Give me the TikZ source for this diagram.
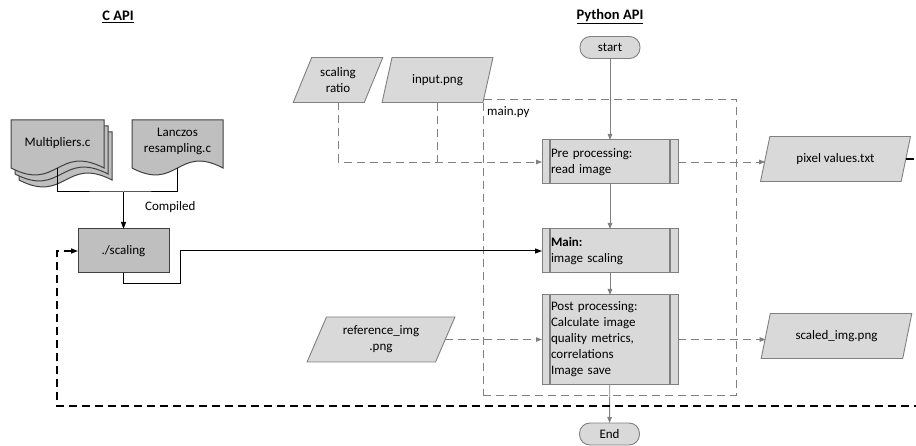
\documentclass[tikz,border=0pt]{standalone}
\usepackage{fontspec}
\setmainfont{Carlito}
\usetikzlibrary{arrows.meta,shapes.geometric}

\definecolor{boxfill}{HTML}{D9D9D9}
\definecolor{boxline}{HTML}{808080}
\definecolor{cfill}{HTML}{BFBFBF}
\definecolor{cline}{HTML}{404040}

% document symbol: options, left x, top y, width, height of straight sides
\newcommand\docshape[5]{%
  \filldraw[#1] (#2,#3) -- ({#2+#4},#3) -- ({#2+#4},{#3+#5})
    .. controls ({#2+0.5*#4},{#3+#5-24}) and ({#2+0.5*#4},{#3+#5+24}) .. (#2,{#3+#5}) -- cycle;}

\begin{document}
\begin{tikzpicture}[x=1pt,y=-1pt,
  font=\fontsize{13}{16}\selectfont,
  sub/.style={draw=boxline, line width=1pt, fill=boxfill, minimum width=136pt,
    text width=118pt, inner xsep=9pt, align=left, outer sep=0pt,
    path picture={\draw[boxline, line width=1.8pt]
      ([xshift=8pt]path picture bounding box.north west) -- ([xshift=8pt]path picture bounding box.south west)
      ([xshift=-8pt]path picture bounding box.north east) -- ([xshift=-8pt]path picture bounding box.south east);}},
  io/.style={trapezium, trapezium left angle=63.43, trapezium right angle=116.57,
    trapezium stretches=true, draw=boxline, fill=boxfill, minimum height=45pt,
    inner sep=0pt, outer sep=0pt, align=center, line width=0.9pt},
  term/.style={draw=boxline, fill=boxfill, rounded corners=10.5pt, minimum width=60pt,
    minimum height=22pt, inner sep=0pt, outer sep=0pt, line width=0.9pt},
  cbox/.style={draw=cline, fill=cfill, line width=1pt, minimum width=91pt,
    minimum height=44pt, inner sep=0pt, outer sep=0pt},
  title/.style={font=\fontsize{14.5}{16}\selectfont\bfseries},
  garrow/.style={draw=boxline, line width=0.9pt, -{Triangle[length=6pt,width=4.5pt]}},
  gdash/.style={garrow, dash pattern=on 8pt off 5pt},
  barrow/.style={draw=black, line width=1pt, -{Triangle[length=7pt,width=5pt]}},
  fbdash/.style={barrow, line width=1.3pt, dash pattern=on 8pt off 5pt}]

\path[use as bounding box, clip] (0,0) rectangle (916,446);

% headings
\node[title] (ctitle) at (118,17) {\underline{C API}};
\node[title] (pytitle) at (610,17) {\underline{Python API}};

% main.py container
\node[draw=boxline, dash pattern=on 8pt off 5pt, line width=0.9pt,
  minimum width=253pt, minimum height=296pt, inner sep=0pt] (mainpy) at (609.5,247) {};
\node[anchor=west, inner sep=0pt] (mainpylbl) at (487,112) {main.py};

% C sources
\docshape{draw=cline, fill=cfill, line width=1pt}{19}{132}{93}{48}
\docshape{draw=cline, fill=cfill, line width=1pt}{15}{126}{93}{48}
\docshape{draw=cline, fill=cfill, line width=1pt}{11}{120}{93}{48}
\node (multi) at (57.5,143) {Multipliers.c};
\coordinate (multib) at (57.5,168);
\docshape{draw=cline, fill=cfill, line width=1pt}{132}{120}{91}{48}
\node[align=center] (lanczos) at (177.5,141) {Lanczos\\resampling.c};
\coordinate (lanczosb) at (177.5,168);

\node[cbox] (scaling) at (123.5,251) {./scaling};
\coordinate (join) at (123.5,192);
\node[anchor=west, inner sep=0pt] (compiled) at (145,207) {Compiled};

% Python flow
\node[term] (start) at (610,47.5) {start};
\node[sub, minimum height=44pt] (pre) at (610,162) {Pre processing:\\read image};
\node[sub, minimum height=44pt] (main) at (610,251) {\textbf{Main:}\\image scaling};
\node[sub, minimum height=89pt] (post) at (610,339.5)
  {Post processing:\\Calculate image\\quality metrics,\\correlations\\Image save};
\node[term] (end) at (609.5,434) {End};

% data
\node[io, minimum width=90pt] (ratio) at (338,80) {scaling\\ratio};
\node[io, minimum width=111pt] (input) at (437.5,80) {input.png};
\node[io, minimum width=150pt] (pixels) at (835.5,159) {pixel values.txt};
\node[io, minimum width=151pt] (scaled) at (836.5,336) {scaled\_img.png};
\node[io, minimum width=148pt] (refimg) at (381,339.5) {reference\_img\\.png};

% compile step
\draw[draw=black, line width=1pt] (multib) |- (join) -| (lanczosb);
\draw[barrow] (join) -- (scaling.north);

% executable called from the main step
\coordinate (bend) at (180,284);
\draw[barrow] (scaling.south) |- (bend) |- (main.west);

% control flow
\draw[garrow] (start) -- (pre);
\draw[garrow] (pre) -- (main);
\draw[garrow] (main) -- (post);
\draw[garrow] (post) -- (end);

% data flow
\draw[gdash] (ratio.south) |- (pre.west);
\draw[draw=boxline, line width=0.9pt, dash pattern=on 8pt off 5pt] (input.south) -- (input.south |- pre.west);
\draw[gdash] (pre.east) -- (pre.east -| pixels.west);
\draw[gdash] (refimg.east) -- (post.west);
\draw[gdash] (post.east) -- (post.east -| scaled.west);

% feedback loop back to the executable
\coordinate (loopr) at (940,406);
\coordinate (loopl) at (57,406);
\draw[fbdash] (pixels.east) -| (loopr) -- (loopl) |- (scaling.west);
\end{tikzpicture}
\end{document}
